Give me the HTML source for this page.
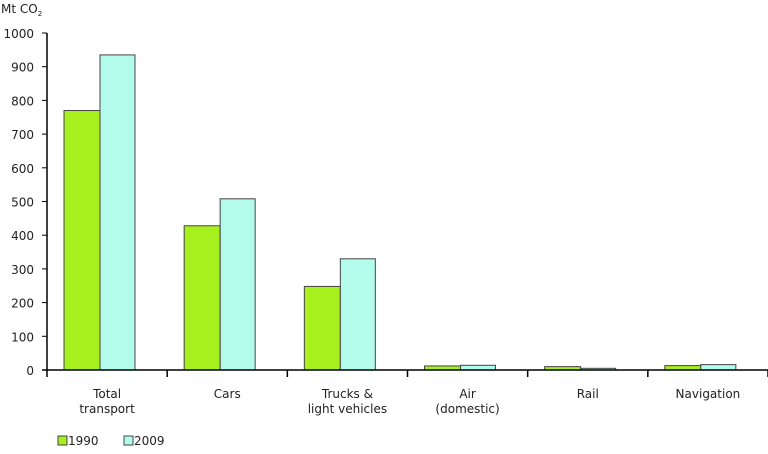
<!DOCTYPE html>
<html><head><meta charset="utf-8"><style>
body{margin:0;background:#fff;}
svg text{font-family:"DejaVu Sans","Liberation Sans",sans-serif;font-size:12px;fill:#222;}
</style></head><body>
<svg id="c" width="768" height="449"></svg>
<script>
const categories=[["Total","transport"],["Cars"],["Trucks &","light vehicles"],["Air","(domestic)"],["Rail"],["Navigation"]];
const series1990=[770,428,248,12,10,13];
const series2009=[935,508,330,14,5,16];
const yTicks=[0,100,200,300,400,500,600,700,800,900,1000];
const svg=document.getElementById('c');
const NS='http://www.w3.org/2000/svg';
const x0=47,x1=768,y0=370,y1=33;
const bandW=(x1-x0)/categories.length;
const y=v=>y0-(v/1000)*(y0-y1);
function mk(t,a,txt){const e=document.createElementNS(NS,t);for(const k in a)e.setAttribute(k,a[k]);if(txt!==undefined)e.textContent=txt;svg.appendChild(e);return e;}
const ttl=mk('text',{x:1,y:13,'font-size':'11'},'Mt CO');


const sub=document.createElementNS(NS,'tspan');sub.setAttribute('font-size','7');sub.setAttribute('dy','3');sub.textContent='2';ttl.appendChild(sub);
yTicks.forEach(v=>{
 const t=mk('line',{x1:x0-5,x2:x0,y1:y(v),y2:y(v),stroke:'#000','stroke-width':1});
 
 
 const l=mk('text',{x:34,y:y(v)+5,'text-anchor':'end'},v);
 
 
});
categories.forEach((c,i)=>{
 const bx=x0+i*bandW;
 const b1=mk('rect',{x:bx+17,y:y(series1990[i]),width:36,height:y0-y(series1990[i]),fill:'#a8ef1e',stroke:'#444','stroke-width':1});
 
 
 const b2=mk('rect',{x:bx+53,y:y(series2009[i]),width:35,height:y0-y(series2009[i]),fill:'#b3fbea',stroke:'#444','stroke-width':1});
 
 
 const tk=mk('line',{x1:bx+bandW,x2:bx+bandW,y1:y0,y2:y0+7,stroke:'#000','stroke-width':1.5});
 
 
 c.forEach((s,j)=>{
  const l=mk('text',{x:bx+bandW/2,y:398+j*15,'text-anchor':'middle'},s);
  
  
 });
});
const ax=mk('line',{x1:x0,x2:x0,y1:y1,y2:y0,stroke:'#000','stroke-width':1.5});


const xa=mk('line',{x1:x0-5,x2:x1,y1:y0,y2:y0,stroke:'#000','stroke-width':1.5});


const tk0=mk('line',{x1:x0,x2:x0,y1:y0,y2:y0+7,stroke:'#000','stroke-width':1.5});


const lg1=mk('rect',{x:58,y:436,width:9,height:9,fill:'#a8ef1e',stroke:'#444'});


const lt1=mk('text',{x:68,y:445},'1990');


const lg2=mk('rect',{x:124,y:436,width:9,height:9,fill:'#b3fbea',stroke:'#444'});


const lt2=mk('text',{x:134,y:445},'2009');


</script>
</body></html>
